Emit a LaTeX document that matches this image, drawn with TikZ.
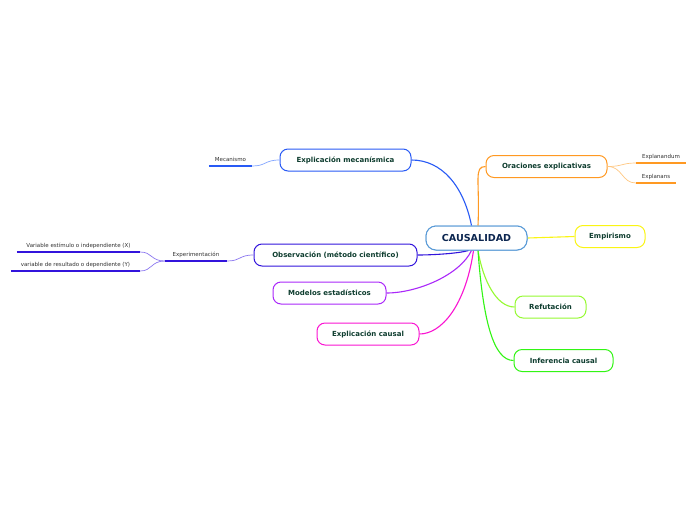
\documentclass[tikz,border=0pt]{standalone}
\usepackage{fontspec}
\setmainfont{DejaVu Sans}
\usetikzlibrary{calc}
\definecolor{cblue}{RGB}{40,90,245}
\definecolor{cblueL}{RGB}{130,165,255}
\definecolor{corange}{RGB}{255,153,34}
\definecolor{corangeL}{RGB}{255,200,130}
\definecolor{cyellow}{RGB}{250,245,20}
\definecolor{clgreen}{RGB}{150,250,50}
\definecolor{cgreen}{RGB}{50,245,20}
\definecolor{cobs}{RGB}{50,20,220}
\definecolor{cobsL}{RGB}{140,120,240}
\definecolor{cpurple}{RGB}{170,40,250}
\definecolor{cmag}{RGB}{250,20,210}
\definecolor{ccenter}{RGB}{90,155,215}
\definecolor{ctext}{RGB}{14,61,47}
\definecolor{cnavy}{RGB}{12,38,80}
\definecolor{cleaf}{RGB}{50,50,50}
\tikzset{
  topic/.style={draw, line width=1pt, rounded corners=8pt, fill=white, minimum height=22pt, inner sep=0pt, text=ctext, font=\bfseries\fontsize{7}{8}\selectfont},
  centre/.style={draw=ccenter, line width=1pt, rounded corners=10pt, fill=white, minimum width=101pt, minimum height=24pt, inner sep=0pt, text=cnavy, font=\bfseries\fontsize{9.6}{11}\selectfont},
  leaf/.style={anchor=south, minimum height=12pt, inner sep=0pt, text=cleaf, font=\fontsize{5.5}{6}\selectfont},
  uline/.style={line width=1.6pt},
  conn/.style={line width=1.1pt},
  lconn/.style={line width=0.7pt},
}
\begin{document}
\begin{tikzpicture}[x=1pt,y=-1pt]
\useasboundingbox[fill=white] (0,0) rectangle (696,520);
% center
\node[centre] (c) at (476.5,238) {CAUSALIDAD};
% topics
\node[topic, draw=cblue, minimum width=131pt] (em) at (345.5,160) {Explicación mecanísmica};
\node[topic, draw=corange, minimum width=121pt] (or) at (546.5,166.5) {Oraciones explicativas};
\node[topic, draw=cyellow, minimum width=70pt] (emp) at (610,236.5) {Empirismo};
\node[topic, draw=clgreen, minimum width=71pt] (ref) at (550.5,307) {Refutación};
\node[topic, draw=cgreen, minimum width=99pt] (inf) at (563.5,360.5) {Inferencia causal};
\node[topic, draw=cobs, minimum width=163pt] (obs) at (335.5,255) {Observación (método científico)};
\node[topic, draw=cpurple, minimum width=113pt] (mod) at (329.5,293) {Modelos estadísticos};
\node[topic, draw=cmag, minimum width=102pt] (cau) at (368,334) {Explicación causal};
% leaves
\node[leaf, minimum width=43pt] (mec) at (230.5,166) {Mecanismo};
\node[leaf, minimum width=50pt] (exd) at (661,163) {Explanandum};
\node[leaf, minimum width=40pt] (exs) at (656,183) {Explanans};
\node[leaf, minimum width=62pt] (exp) at (196,261) {Experimentación};
\node[leaf, minimum width=123pt] (vx) at (78.5,252) {Variable estímulo o independiente (X)};
\node[leaf, minimum width=129pt] (vy) at (75.5,271) {variable de resultado o dependiente (Y)};
% underlines
\draw[uline, cblue] (mec.south west) -- (mec.south east);
\draw[uline, corange] (exd.south west) -- (exd.south east);
\draw[uline, corange] (exs.south west) -- (exs.south east);
\draw[uline, cobs] (exp.south west) -- (exp.south east);
\draw[uline, cobs] (vx.south west) -- (vx.south east);
\draw[uline, cobs] (vy.south west) -- (vy.south east);
% leaf connectors
\draw[lconn, cblueL] (em.west) .. controls +(-15,0) and +(14,0) .. (mec.south east);
\draw[lconn, corangeL] (or.east) .. controls +(15,0) and +(-14,0) .. (exd.south west);
\draw[lconn, corangeL] (or.east) .. controls +(15,0) and +(-14,0) .. (exs.south west);
\draw[lconn, cobsL] (obs.west) .. controls +(-15,0) and +(14,0) .. (exp.south east);
\draw[lconn, cobsL] (exp.south west) .. controls +(-14,0) and +(12,0) .. (vx.south east);
\draw[lconn, cobsL] (exp.south west) .. controls +(-14,0) and +(12,0) .. (vy.south east);
% main connectors
\draw[conn, cblue] (em.east) .. controls +(30,0) and +(-8,-40) .. ($(c.north)+(-5,0)$);
\draw[conn, corange] ($(c.north)+(1.5,0)$) .. controls +(2,-45) and +(-12,0) .. (or.west);
\draw[conn, cyellow] (c.east) -- (emp.west);
\draw[conn, clgreen] ($(c.south)+(1.5,0)$) .. controls +(5,30) and +(-18,0) .. (ref.west);
\draw[conn, cgreen] ($(c.south)+(1.5,0)$) .. controls +(5,70) and +(-20,0) .. (inf.west);
\draw[conn, cobs] ($(c.south)+(-8,0)$) .. controls +(-10,3) and +(15,0) .. (obs.east);
\draw[conn, cpurple] ($(c.south)+(-5,0)$) .. controls +(-12,25) and +(30,0) .. (mod.east);
\draw[conn, cmag] ($(c.south)+(-3,0)$) .. controls +(-8,55) and +(22,0) .. (cau.east);
% center drawn again above its connectors
\node[centre] (c2) at (c) {CAUSALIDAD};
\end{tikzpicture}
\end{document}
